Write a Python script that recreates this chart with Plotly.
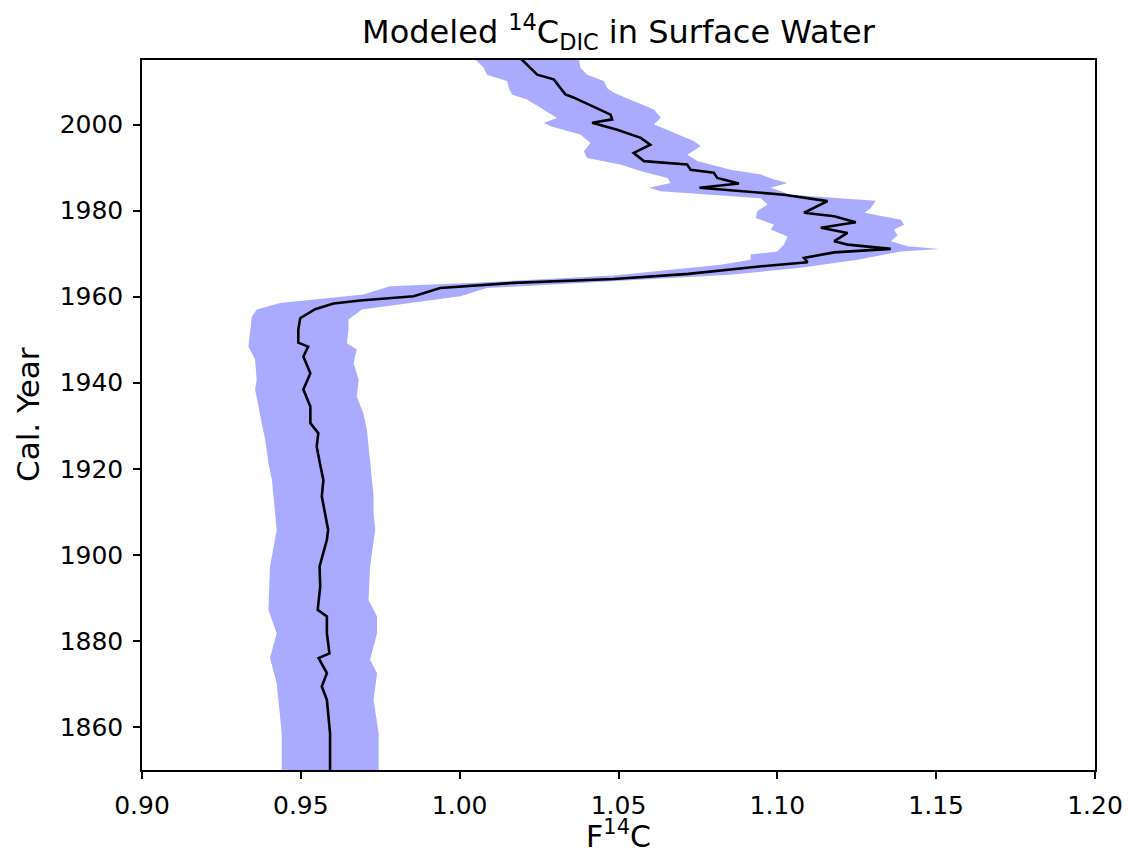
import plotly.graph_objects as go

# Mean modeled F14C, by calendar year
mean_years = [2015.5, 2013.2, 2011.6, 2010.5, 2008.5, 2007.0, 2006.3, 2004.6, 2002.3, 2001.2,
              2000.4, 1998.8, 1996.9, 1995.3, 1993.4, 1991.5, 1990.7, 1989.5, 1988.8, 1987.6,
              1986.3, 1985.3, 1984.7, 1983.7, 1982.2, 1981.0, 1979.5, 1978.7, 1977.3, 1976.0,
              1974.8, 1972.9, 1972.1, 1971.1, 1970.3, 1969.0, 1968.0, 1967.2, 1966.0, 1965.3,
              1964.1, 1963.2, 1962.0, 1960.1, 1959.1, 1958.4, 1957.1, 1955.0, 1952.3, 1949.3,
              1948.4, 1946.1, 1942.2, 1938.4, 1934.5, 1930.6, 1928.3, 1925.2, 1921.3, 1917.4,
              1913.6, 1909.7, 1905.8, 1903.5, 1897.3, 1892.6, 1887.2, 1885.7, 1881.8, 1877.1,
              1876.0, 1872.5, 1869.4, 1866.3, 1862.4, 1858.5, 1849.5]
mean_vals = [1.0190, 1.0223, 1.0244, 1.0296, 1.0317, 1.0333, 1.0358, 1.0410, 1.0475, 1.0480,
             1.0417, 1.0496, 1.0570, 1.0600, 1.0548, 1.0580, 1.0716, 1.0727, 1.0800, 1.0811,
             1.0879, 1.0755, 1.0850, 1.1021, 1.1158, 1.1126, 1.1084, 1.1179, 1.1247, 1.1137,
             1.1221, 1.1179, 1.1221, 1.1357, 1.1179, 1.1084, 1.1095, 1.0969, 1.0822, 1.0720,
             1.0485, 1.0170, 0.9939, 0.9855, 0.9687, 0.9603, 0.9545, 0.9498, 0.9492, 0.9492,
             0.9523, 0.9508, 0.9530, 0.9508, 0.9530, 0.9530, 0.9555, 0.9550, 0.9560, 0.9571,
             0.9566, 0.9577, 0.9586, 0.9582, 0.9559, 0.9561, 0.9553, 0.9582, 0.9582, 0.9590,
             0.9556, 0.9582, 0.9566, 0.9582, 0.9587, 0.9592, 0.9592]

# Upper bound of the uncertainty envelope
upper_years = [2015.5, 2013.2, 2011.6, 2010.1, 2008.5, 2007.4, 2005.4, 2003.5, 2001.6, 2000.0,
               1998.1, 1996.1, 1995.0, 1993.0, 1991.5, 1989.5, 1988.4, 1987.2, 1986.4, 1985.3,
               1983.7, 1982.3, 1980.6, 1979.5, 1977.9, 1976.7, 1975.6, 1974.2, 1972.9, 1971.7,
               1971.1, 1970.5, 1968.6, 1966.7, 1965.1, 1963.6, 1962.0, 1960.1, 1958.7, 1957.0,
               1954.7, 1952.3, 1949.2, 1947.7, 1944.6, 1940.7, 1936.8, 1932.9, 1929.1, 1925.2,
               1921.3, 1917.4, 1913.6, 1909.7, 1905.8, 1897.3, 1889.5, 1885.7, 1881.8, 1875.6,
               1872.5, 1866.3, 1858.5, 1849.5]
upper_vals = [1.0375, 1.0380, 1.0401, 1.0454, 1.0464, 1.0485, 1.0549, 1.0612, 1.0633, 1.0612,
              1.0675, 1.0738, 1.0759, 1.0717, 1.0748, 1.0853, 1.0948, 1.0990, 1.1032, 1.0979,
              1.1042, 1.1310, 1.1294, 1.1275, 1.1389, 1.1399, 1.1368, 1.1378, 1.1357, 1.1410,
              1.1510, 1.1389, 1.1252, 1.1074, 1.0850, 1.0485, 1.0086, 1.0002, 0.9855, 0.9692,
              0.9650, 0.9650, 0.9645, 0.9676, 0.9666, 0.9682, 0.9676, 0.9697, 0.9708, 0.9713,
              0.9719, 0.9724, 0.9729, 0.9729, 0.9734, 0.9718, 0.9713, 0.9740, 0.9740, 0.9718,
              0.9740, 0.9729, 0.9745, 0.9745]

# Lower bound of the uncertainty envelope
lower_years = [2015.5, 2013.2, 2011.6, 2010.1, 2008.5, 2007.0, 2005.8, 2003.9, 2001.5, 2000.4,
               1999.6, 1997.7, 1995.7, 1993.8, 1992.2, 1990.7, 1989.2, 1987.6, 1986.4, 1985.3,
               1984.5, 1982.9, 1981.4, 1979.9, 1978.3, 1976.7, 1975.6, 1974.0, 1972.1, 1970.5,
               1969.8, 1968.6, 1967.4, 1964.9, 1963.3, 1962.4, 1960.5, 1958.5, 1957.0, 1955.4,
               1952.3, 1948.4, 1945.4, 1940.7, 1938.4, 1934.5, 1930.6, 1926.7, 1921.3, 1917.4,
               1909.7, 1905.8, 1897.3, 1887.2, 1881.8, 1876.0, 1870.2, 1862.4, 1858.5, 1849.5]
lower_vals = [1.0044, 1.0076, 1.0086, 1.0149, 1.0155, 1.0165, 1.0212, 1.0254, 1.0307, 1.0265,
              1.0286, 1.0380, 1.0412, 1.0391, 1.0401, 1.0506, 1.0569, 1.0654, 1.0664, 1.0596,
              1.0633, 1.0948, 1.0969, 1.0937, 1.0932, 1.0990, 1.0979, 1.1032, 1.1021, 1.1000,
              1.0916, 1.0916, 1.0822, 1.0485, 1.0065, 0.9780, 0.9697, 0.9435, 0.9361, 0.9346,
              0.9340, 0.9335, 0.9356, 0.9361, 0.9356, 0.9367, 0.9377, 0.9388, 0.9398, 0.9409,
              0.9419, 0.9424, 0.9403, 0.9398, 0.9424, 0.9403, 0.9424, 0.9435, 0.9440, 0.9440]

x_ticks = [0.90, 0.95, 1.00, 1.05, 1.10, 1.15, 1.20]
y_ticks = [1860, 1880, 1900, 1920, 1940, 1960, 1980, 2000]

FONT = "DejaVu Sans"
W, H = 1128, 854

fig = go.Figure()
fig.add_trace(go.Scatter(
    x=upper_vals + lower_vals[::-1],
    y=upper_years + lower_years[::-1],
    fill="toself", fillcolor="#AAAAFF", mode="lines",
    line=dict(width=0, color="#AAAAFF"), hoverinfo="skip", showlegend=False))
fig.add_trace(go.Scatter(
    x=mean_vals, y=mean_years, mode="lines",
    line=dict(color="black", width=2.6), showlegend=False))

axis_common = dict(showgrid=False, zeroline=False, showline=True, linecolor="black",
                   linewidth=1.5, mirror=True, ticks="outside", ticklen=7, tickwidth=1.5,
                   tickcolor="black", ticklabelstandoff=5, automargin=False,
                   tickfont=dict(family=FONT, size=25, color="black"))

fig.update_xaxes(range=[0.90, 1.20], tickvals=x_ticks,
                 ticktext=[f"{v:.2f}" for v in x_ticks], **axis_common)
fig.update_yaxes(range=[1850, 2015], tickvals=y_ticks,
                 ticktext=[str(v) for v in y_ticks], **axis_common)

fig.update_layout(
    width=W, height=H,
    margin=dict(l=142, r=33, t=60, b=84, autoexpand=False),
    paper_bgcolor="white", plot_bgcolor="white",
    title=dict(text="Modeled <sup>14</sup>C<sub>DIC</sub> in Surface Water",
               x=0.5, xref="paper", y=1 - 32 / H, yref="container",
               xanchor="center", yanchor="middle", automargin=False,
               font=dict(family=FONT, size=32, color="black")),
    annotations=[
        dict(text="F<sup>14</sup>C", xref="paper", yref="paper", x=0.5, y=0,
             yshift=-86, xanchor="center", yanchor="bottom", showarrow=False,
             font=dict(family=FONT, size=30, color="black")),
        dict(text="Cal. Year", xref="paper", yref="paper", x=0, y=0.5,
             xshift=-114, xanchor="center", yanchor="middle", textangle=-90,
             showarrow=False, font=dict(family=FONT, size=31, color="black")),
    ],
)

fig.write_html("out.html", config={"displayModeBar": False},
               post_script="document.body.style.margin='0';document.body.style.overflow='hidden';")
